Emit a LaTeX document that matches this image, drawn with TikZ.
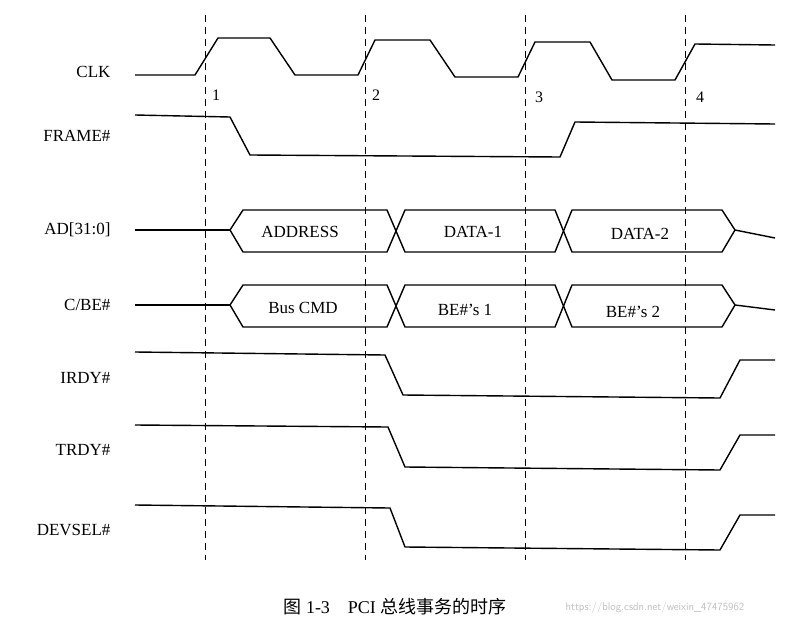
\documentclass[tikz,border=0pt]{standalone}
\usepackage{fontspec}
\setmainfont{Liberation Serif}
\newfontfamily\cjk{Noto Sans CJK SC}
\begin{document}
\begin{tikzpicture}[x=1pt,y=-1pt,
  sig/.style={line width=1.4pt,line join=round},
  guide/.style={dashed,line width=0.8pt,dash pattern=on 7pt off 5pt},
  lbl/.style={anchor=east,font=\fontsize{17}{17}\selectfont},
  num/.style={font=\fontsize{16}{16}\selectfont},
  bus/.style={font=\fontsize{17}{17}\selectfont}]
\useasboundingbox (0,0) rectangle (790,640);
\fill[white] (0,0) rectangle (790,640);
% guides
\foreach \x/\n in {205/1,365/2,525/3,685/4}{
  \draw[guide] (\x,15) -- (\x,560);
}
\node[num] (n1) at (216,95) {1};
\node[num] (n2) at (376,95) {2};
\node[num] (n3) at (539,97) {3};
\node[num] (n4) at (700,97) {4};
% labels
\node[lbl] (lclk) at (114,72) {CLK};
\node[lbl] (lfr) at (114,136) {FRAME\#};
\node[lbl] (lad) at (114,230) {AD[31:0]};
\node[lbl] (lcbe) at (114,305) {C/BE\#};
\node[lbl] (lirdy) at (114,378) {IRDY\#};
\node[lbl] (ltrdy) at (114,450) {TRDY\#};
\node[lbl] (ldev) at (114,530) {DEVSEL\#};
% CLK
\draw[sig] (135,75) -- (195,75) -- (218,38) -- (270,38) -- (295,75) -- (358,75) -- (375,40) -- (430,40) -- (455,77) -- (518,77) -- (535,42) -- (590,42) -- (612,80) -- (675,80) -- (695,44) -- (775,45);
% FRAME
\draw[sig] (135,115) -- (230,117) -- (250,155) -- (560,157) -- (575,122) -- (775,124);
% AD bus
\draw[sig] (135,230) -- (230,230);
\draw[sig] (230,230) -- (243,210) -- (387,210) -- (405,252) -- (555,252) -- (572,210) -- (722,210) -- (735,230) -- (775,238);
\draw[sig] (230,230) -- (243,252) -- (387,252) -- (405,210) -- (555,210) -- (572,252) -- (722,252) -- (735,230);
\node[bus] (a1) at (300,232) {ADDRESS};
\node[bus] (a2) at (473,232) {DATA-1};
\node[bus] (a3) at (640,234) {DATA-2};
% C/BE bus
\draw[sig] (135,305) -- (230,305);
\draw[sig] (230,305) -- (243,285) -- (387,285) -- (405,327) -- (555,327) -- (572,285) -- (722,285) -- (735,305) -- (775,310);
\draw[sig] (230,305) -- (243,327) -- (387,327) -- (405,285) -- (555,285) -- (572,327) -- (722,327) -- (735,305);
\node[bus] (c1) at (303,308) {Bus CMD};
\node[bus] (c2) at (465,310) {BE\#'s 1};
\node[bus] (c3) at (633,312) {BE\#'s 2};
% IRDY
\draw[sig] (135,352) -- (385,355) -- (403,395) -- (720,398) -- (740,360) -- (775,360);
% TRDY
\draw[sig] (135,425) -- (388,427) -- (405,467) -- (720,470) -- (740,435) -- (775,435);
% DEVSEL
\draw[sig] (135,505) -- (390,508) -- (405,547) -- (720,550) -- (740,515) -- (775,515);
% caption
\node (cap) at (395,607) {\fontsize{18}{18}\selectfont{\cjk 图} 1-3\quad PCI {\cjk 总线事务的时序}};
\node[text=black!25,font=\fontsize{11}{11}\selectfont\sffamily] (wm) at (655,608) {https://blog.csdn.net/weixin\_47475962};
\end{tikzpicture}
\end{document}
